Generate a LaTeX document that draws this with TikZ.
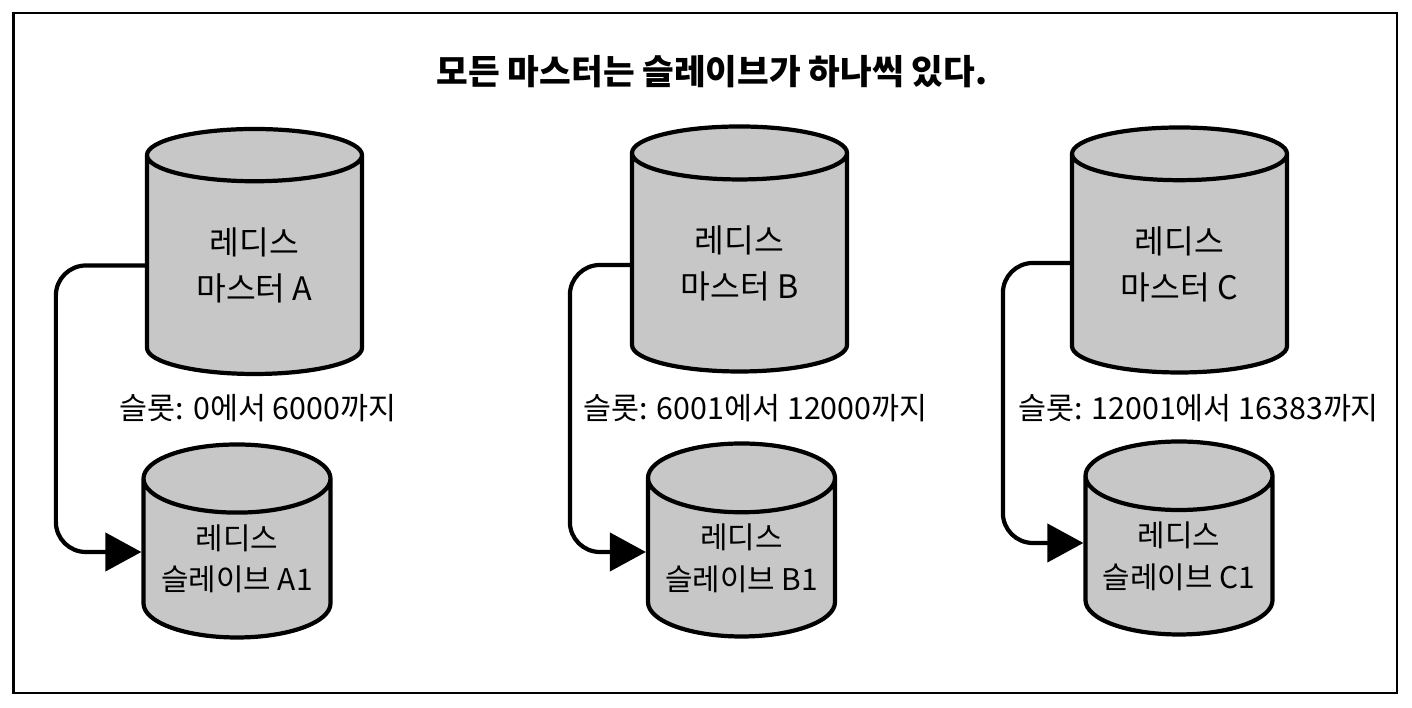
\documentclass[tikz,border=0pt]{standalone}
\usepackage{fontspec}
\setmainfont{Noto Sans CJK KR}
\usetikzlibrary{arrows.meta,shapes.geometric,calc}

\begin{document}
\begin{tikzpicture}[
		db/.style={cylinder, shape border rotate=90, draw, very thick, fill=black!22, aspect=0.45, align=center, inner sep=0pt, anchor=shape center},
		master/.style={db, minimum width=2.15cm, minimum height=2.45cm, font=\fontsize{9.2}{13}\selectfont},
		slave/.style={db, minimum width=1.87cm, minimum height=1.93cm, font=\fontsize{8.5}{11.8}\selectfont},
		slots/.style={font=\fontsize{8.65}{10}\selectfont},
		link/.style={very thick, rounded corners=0.3cm, -{Triangle[length=0.36cm, width=0.38cm]}},
	]
		\useasboundingbox (0,0) rectangle (14.12,7.08);
		\draw[semithick] (0.135,0.15) rectangle (13.97,6.95);
		
		\node (title) at (7.12,6.36) {\fontsize{9.8}{12}\selectfont\bfseries 모든 마스터는 슬레이브가 하나씩 있다.};
		
		\node (ma) [master] at (2.545,4.565) {레디스\\마스터 A};
		\node (mb) [master] at (7.395,4.59) {레디스\\마스터 B};
		\node (mc) [master] at (11.795,4.58) {레디스\\마스터 C};
		
		\node (sa) [slave] at (2.37,1.67) {레디스\\슬레이브 A1};
		\node (sb) [slave] at (7.415,1.68) {레디스\\슬레이브 B1};
		\node (sc) [slave] at (11.79,1.70) {레디스\\슬레이브 C1};
		
		\node (la) [slots] at (2.58,3.00) {슬롯: 0에서 6000까지};
		\node (lb) [slots] at (7.555,3.00) {슬롯: 6001에서 12000까지};
		\node (lc) [slots] at (11.985,3.00) {슬롯: 12001에서 16383까지};
		
		\draw[link] ($(ma.shape center -| ma.west)+(0,-0.14)$) -- ++(-0.89,0) |- ($(sa.shape center -| sa.west)+(0,-0.11)$);
		\draw[link] ($(mb.shape center -| mb.west)+(0,-0.16)$) -- ++(-0.60,0) |- ($(sb.shape center -| sb.west)+(0,-0.12)$);
		\draw[link] ($(mc.shape center -| mc.west)+(0,-0.13)$) -- ++(-0.67,0) |- ($(sc.shape center -| sc.west)+(0,-0.05)$);
	\end{tikzpicture}
\end{document}
